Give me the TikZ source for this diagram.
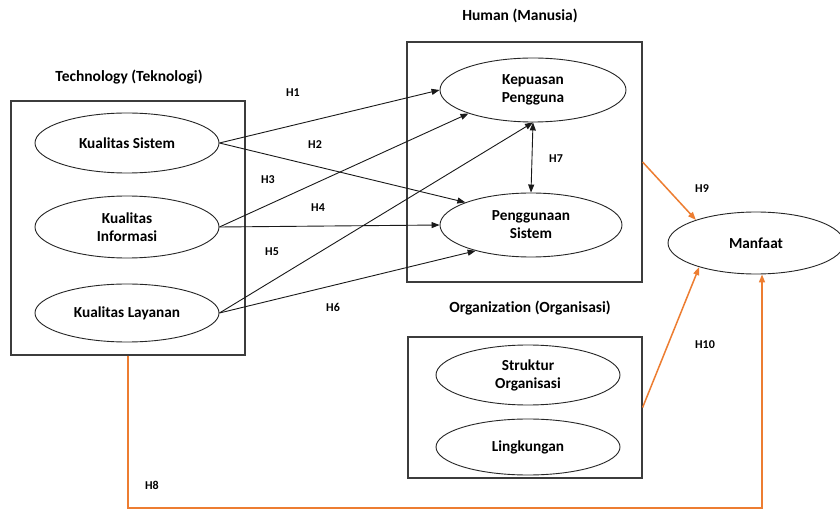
\documentclass[tikz,border=0pt]{standalone}
\usepackage{fontspec}
\setmainfont{Carlito}[Ligatures={NoCommon,NoContextual}]
\usetikzlibrary{shapes.geometric,arrows.meta}
\definecolor{boxgray}{RGB}{60,60,60}
\definecolor{orangeline}{RGB}{237,125,49}
\tikzset{
  ell/.style={ellipse, draw=black!85, line width=0.9pt, minimum width=184, minimum height=60, inner sep=0pt, align=center, font=\fontsize{15.3}{18}\selectfont\bfseries},
  grp/.style={draw=boxgray, line width=1.2pt, inner sep=0pt},
  ttl/.style={font=\fontsize{15.5}{18}\selectfont\bfseries},
  lbl/.style={font=\fontsize{12}{14}\selectfont\bfseries},
  arr/.style={draw=black!90, line width=0.9pt, -{Triangle[length=8pt,width=6pt]}},
  darr/.style={draw=black!90, line width=0.9pt, {Triangle[length=8pt,width=6pt]}-{Triangle[length=8pt,width=6pt]}},
  oarr/.style={draw=orangeline, line width=1.5pt, -{Triangle[length=8pt,width=6pt]}},
}
\begin{document}
\begin{tikzpicture}[x=1pt,y=-1pt]
\useasboundingbox[fill=white] (0,0) rectangle (840,510);
% group boxes
\node[grp, minimum width=234, minimum height=254] (tech) at (128,228) {};
\node[grp, minimum width=235, minimum height=240] (hum) at (524.5,162) {};
\node[grp, minimum width=234, minimum height=141] (org) at (525,407.5) {};
% titles
\node[ttl] (ttech) at (129,77) {Technology (Teknologi)};
\node[ttl] (thum) at (520,16) {Human (Manusia)};
\node[ttl] (torg) at (530,308) {Organization (Organisasi)};
% ellipses
\node[ell] (ks) at (127,143) {Kualitas Sistem};
\node[ell, minimum height=62] (ki) at (127,227) {Kualitas\\Informasi};
\node[ell, minimum height=58] (kl) at (127,313) {Kualitas Layanan};
\node[ell, minimum width=186, minimum height=64] (kp) at (533,90) {Kepuasan\\Pengguna};
\node[ell, minimum width=182, minimum height=64] (pg) at (531,225) {Penggunaan\\Sistem};
\node[ell, minimum width=184, minimum height=60] (so) at (528,375) {Struktur\\Organisasi};
\node[ell, minimum width=184, minimum height=56] (lk) at (528,447) {Lingkungan};
\node[ell, minimum width=176, minimum height=62] (mf) at (756,243) {Manfaat};
% black connectors
\draw[arr] (ks.east) -- (kp.west);
\draw[arr] (ks.east) -- (pg.161);
\draw[arr] (ki.east) -- (kp.200);
\draw[arr] (ki.east) -- (pg.west);
\draw[arr] (kl.east) -- (kp.south);
\draw[arr] (kl.east) -- (pg.205);
\draw[darr] (kp.south) -- (pg.north);
% orange connectors
\coordinate (h8c) at (762,508);
\draw[oarr] (hum.east) -- (mf.159);
\draw[oarr] (org.east) -- (mf.203);
\draw[oarr] (tech.south) |- (h8c) -- (h8c |- mf.south);
% labels
\node[lbl] (h1) at (293,93) {H1};
\node[lbl] (h2) at (315,145) {H2};
\node[lbl] (h3) at (268,180) {H3};
\node[lbl] (h4) at (318,208) {H4};
\node[lbl] (h5) at (272,252) {H5};
\node[lbl] (h6) at (333,307) {H6};
\node[lbl] (h7) at (556,159) {H7};
\node[lbl] (h8) at (152,485) {H8};
\node[lbl] (h9) at (702,189) {H9};
\node[lbl] (h10) at (705,345) {H10};
\end{tikzpicture}
\end{document}
